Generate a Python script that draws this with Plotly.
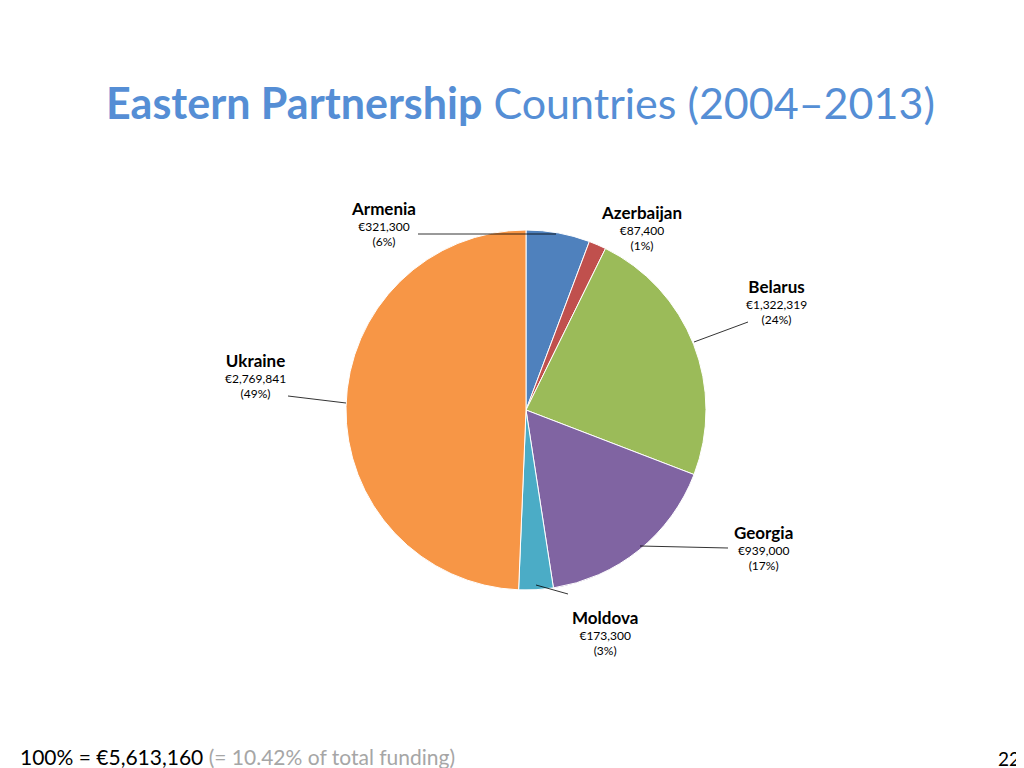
import plotly.graph_objects as go

countries = ["Armenia", "Azerbaijan", "Belarus", "Georgia", "Moldova", "Ukraine"]
amounts = [321300, 87400, 1322319, 939000, 173300, 2769841]
amount_labels = ["€321,300", "€87,400", "€1,322,319", "€939,000", "€173,300", "€2,769,841"]
pct_labels = ["(6%)", "(1%)", "(24%)", "(17%)", "(3%)", "(49%)"]
colors = ["#4F81BD", "#C0504D", "#9BBB59", "#8064A2", "#4BACC6", "#F79646"]

W, H = 1024, 768
def px(x): return x / W
def py(y): return 1 - y / H

fig = go.Figure(go.Pie(
    labels=countries, values=amounts, sort=False, direction="clockwise", rotation=0,
    marker=dict(colors=colors, line=dict(color="white", width=1)),
    textinfo="none", hoverinfo="label+value+percent", showlegend=False,
    domain=dict(x=[px(336), px(700)], y=[py(582), py(222)]),
))

label_pos = {"Armenia": (375, 188), "Azerbaijan": (633, 192), "Belarus": (768, 266),
             "Georgia": (755, 512), "Moldova": (597, 597), "Ukraine": (247, 340)}
anns = []
for c, a, p in zip(countries, amount_labels, pct_labels):
    x, y = label_pos[c]
    anns.append(dict(x=px(x), y=py(y), xref="paper", yref="paper", xanchor="center", yanchor="top",
                     showarrow=False, align="center",
                     text=f"<b><span style='font-size:17px'>{c}</span></b><br>{a}<br>{p}",
                     font=dict(family="Lato", size=12, color="#000")))

anns.append(dict(x=0.5, y=py(95), xref="paper", yref="paper", xanchor="center", yanchor="middle",
                 showarrow=False, text="<b>Eastern Partnership</b> Countries (2004–2013)",
                 font=dict(family="Lato", size=43, color="#558ED5")))
anns.append(dict(x=px(10), y=py(748), xref="paper", yref="paper", xanchor="left", yanchor="middle",
                 showarrow=False,
                 text="100% = €5,613,160 <span style='color:#A6A6A6'>(= 10.42% of total funding)</span>",
                 font=dict(family="Lato", size=21, color="#000")))
anns.append(dict(x=px(1014), y=py(750), xref="paper", yref="paper", xanchor="right", yanchor="middle",
                 showarrow=False, text="22", font=dict(family="Lato", size=19, color="#000")))

lines = [((410, 226), (548, 226)), ((740, 314), (686, 334)), ((280, 388), (338, 395)),
         ((720, 540), (632, 538)), ((560, 586), (528, 577))]
shapes = [dict(type="line", xref="paper", yref="paper", x0=px(a[0]), y0=py(a[1]), x1=px(b[0]), y1=py(b[1]),
               line=dict(color="#000", width=0.8)) for a, b in lines]

fig.update_layout(width=W, height=H, margin=dict(l=0, r=0, t=0, b=0),
                  paper_bgcolor="white", plot_bgcolor="white", annotations=anns, shapes=shapes)
fig.write_html("out.html")
